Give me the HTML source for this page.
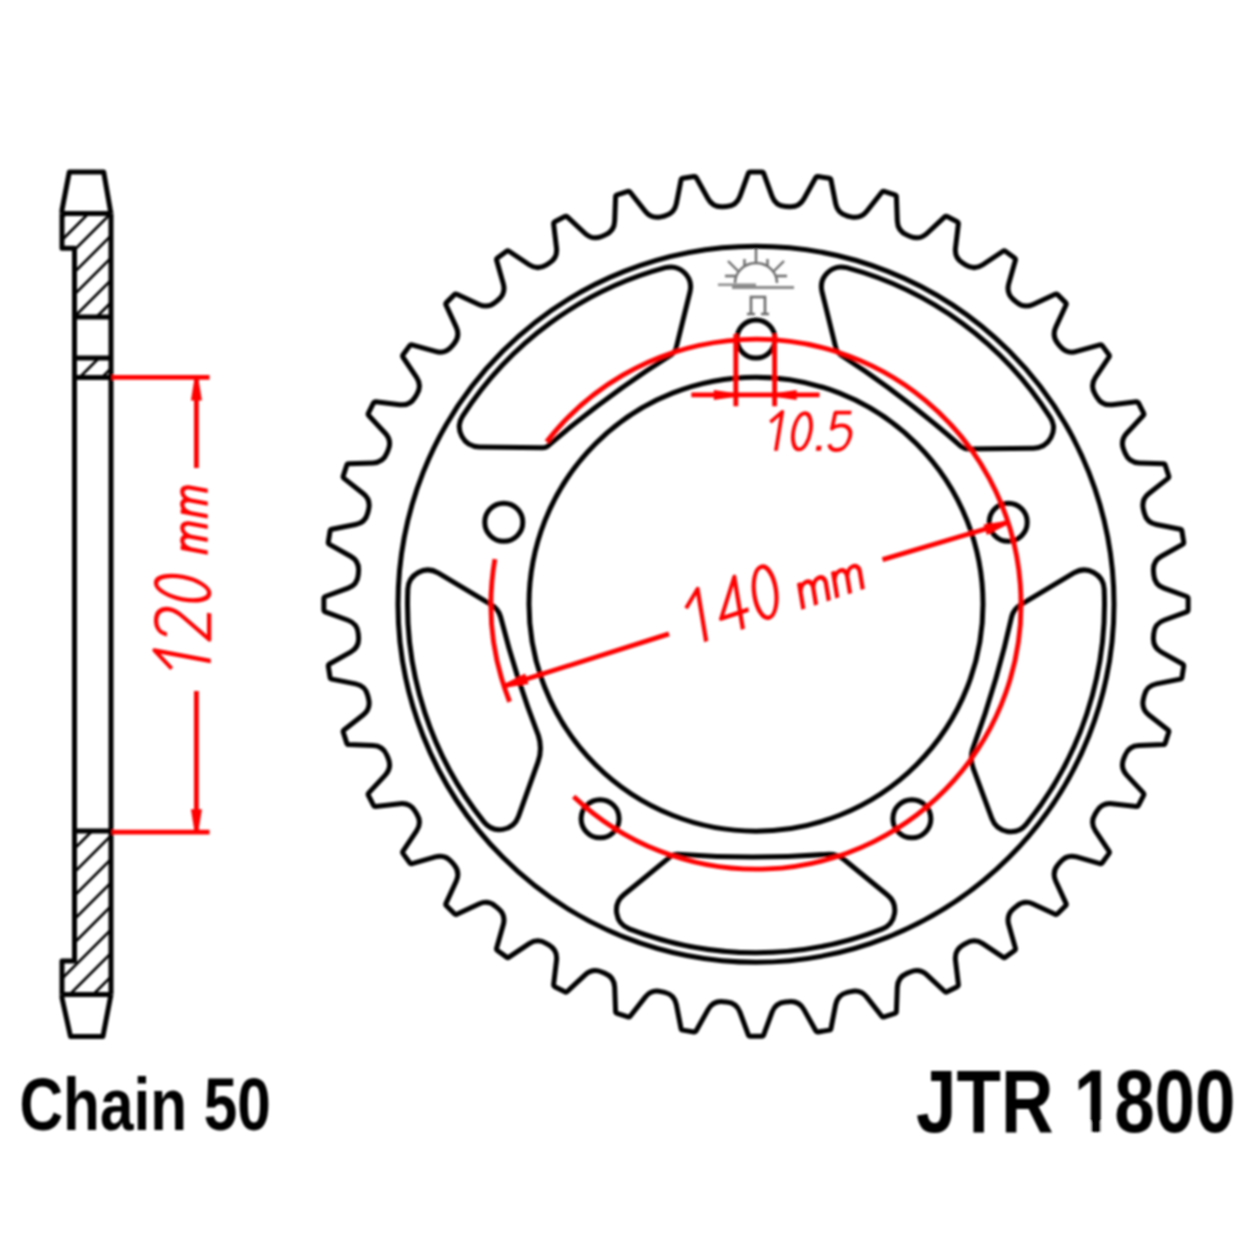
<!DOCTYPE html>
<html><head><meta charset="utf-8"><style>
html,body{margin:0;padding:0;background:#fff;}
body{width:1260px;height:1260px;overflow:hidden;}
svg{display:block;}
</style></head><body>
<svg width="1260" height="1260" viewBox="0 0 1260 1260"><defs><clipPath id="h1"><path d="M62.0,213.5 L111.0,213.5 L111.0,317 L74.5,317 L74.5,248.3 L62.0,248.3 Z"/></clipPath><clipPath id="h2"><rect x="74.5" y="358" width="36.5" height="19.5"/></clipPath><clipPath id="h3"><path d="M74.5,831 L111.0,831 L111.0,994.5 L62.0,994.5 L62.0,961 L74.5,961 Z"/></clipPath><filter id="soft" x="-2%" y="-2%" width="104%" height="104%"><feGaussianBlur stdDeviation="0.8"/></filter></defs><rect width="1260" height="1260" fill="#fff"/><g filter="url(#soft)"><g fill="none" stroke="#6a6a6a" stroke-width="2.4"><path d="M756,248 L756,264"/><path d="M735,283 A21,20 0 0 1 777,283"/><path d="M728,261 L738,271 M784,261 L774,271 M744.5,259 L744.5,267 M767.5,259 L767.5,267 M725,276 L735,276 M777,276 L787,276"/></g><path d="M718,283.5 L756,283.5 L756,286 L794,286 L794,289 L732,289 L732,286 L718,286 Z" fill="#8a8a8a"/><path d="M751,314 L751,297 L765,297 L765,314 M747,314 L755,314 M761,314 L769,314" fill="none" stroke="#6a6a6a" stroke-width="2.6"/><g fill="none" stroke="#000" stroke-width="5.0" stroke-linejoin="round"><path d="M62.0,213.5 L62.0,210 L69.3,172 L103.7,172 L110.3,210 L111.0,213.5"/><path d="M62.0,213.5 L111.0,213.5"/><path d="M62.0,213.5 L62.0,248.3 L74.5,248.3 L74.5,961 L62.0,961 L62.0,994.5"/><path d="M111.0,213.5 L111.0,994.5"/><path d="M62.0,994.5 L111.0,994.5"/><path d="M62.0,994.5 L62.0,998 L70.5,1036.5 L102.9,1036.5 L110.3,998 L111.0,994.5"/><path d="M74.5,317 L111.0,317"/><path d="M74.5,358 L111.0,358"/><path d="M74.5,377.4 L111.0,377.4"/><path d="M74.5,831 L111.0,831"/><path d="M748.32,173.47 Q748.83,172.06 750.33,172.06 L761.67,172.06 Q763.17,172.06 763.68,173.47 L772.05,196.29 Q775.49,205.68 785.46,206.46 L789.12,206.75 Q799.09,207.53 803.96,198.80 L815.79,177.57 Q816.52,176.26 818.01,176.49 L829.20,178.27 Q830.68,178.50 830.97,179.97 L835.66,203.82 Q837.59,213.63 847.32,215.97 L850.89,216.82 Q860.61,219.16 866.79,211.29 L881.80,192.18 Q882.72,191.00 884.15,191.46 L894.93,194.96 Q896.35,195.42 896.41,196.92 L897.32,221.21 Q897.69,231.20 906.93,235.03 L910.32,236.44 Q919.56,240.26 926.89,233.46 L944.70,216.93 Q945.80,215.91 947.14,216.59 L957.24,221.73 Q958.57,222.41 958.39,223.90 L955.49,248.03 Q954.29,257.96 962.82,263.19 L965.95,265.11 Q974.48,270.33 982.78,264.76 L1002.96,251.21 Q1004.21,250.38 1005.42,251.26 L1014.59,257.92 Q1015.80,258.80 1015.39,260.25 L1008.75,283.63 Q1006.01,293.24 1013.62,299.74 L1016.41,302.12 Q1024.02,308.62 1033.09,304.41 L1055.14,294.19 Q1056.50,293.56 1057.56,294.62 L1065.58,302.64 Q1066.64,303.70 1066.01,305.06 L1055.79,327.11 Q1051.58,336.18 1058.08,343.79 L1060.46,346.58 Q1066.96,354.19 1076.57,351.45 L1099.95,344.81 Q1101.40,344.40 1102.28,345.61 L1108.94,354.78 Q1109.82,355.99 1108.99,357.24 L1095.44,377.42 Q1089.87,385.72 1095.09,394.25 L1097.01,397.38 Q1102.24,405.91 1112.17,404.71 L1136.30,401.81 Q1137.79,401.63 1138.47,402.96 L1143.61,413.06 Q1144.29,414.40 1143.27,415.50 L1126.74,433.31 Q1119.94,440.64 1123.76,449.88 L1125.17,453.27 Q1129.00,462.51 1138.99,462.88 L1163.28,463.79 Q1164.78,463.85 1165.24,465.27 L1168.74,476.05 Q1169.20,477.48 1168.02,478.40 L1148.91,493.41 Q1141.04,499.59 1143.38,509.31 L1144.23,512.88 Q1146.57,522.61 1156.38,524.54 L1180.23,529.23 Q1181.70,529.52 1181.93,531.00 L1183.71,542.19 Q1183.94,543.68 1182.63,544.41 L1161.40,556.24 Q1152.67,561.11 1153.45,571.08 L1153.74,574.74 Q1154.52,584.71 1163.91,588.15 L1186.73,596.52 Q1188.14,597.03 1188.14,598.53 L1188.14,609.87 Q1188.14,611.37 1186.73,611.88 L1163.91,620.25 Q1154.52,623.69 1153.74,633.66 L1153.45,637.32 Q1152.67,647.29 1161.40,652.16 L1182.63,663.99 Q1183.94,664.72 1183.71,666.21 L1181.93,677.40 Q1181.70,678.88 1180.23,679.17 L1156.38,683.86 Q1146.57,685.79 1144.23,695.52 L1143.38,699.09 Q1141.04,708.81 1148.91,714.99 L1168.02,730.00 Q1169.20,730.92 1168.74,732.35 L1165.24,743.13 Q1164.78,744.55 1163.28,744.61 L1138.99,745.52 Q1129.00,745.89 1125.17,755.13 L1123.76,758.52 Q1119.94,767.76 1126.74,775.09 L1143.27,792.90 Q1144.29,794.00 1143.61,795.34 L1138.47,805.44 Q1137.79,806.77 1136.30,806.59 L1112.17,803.69 Q1102.24,802.49 1097.01,811.02 L1095.09,814.15 Q1089.87,822.68 1095.44,830.98 L1108.99,851.16 Q1109.82,852.41 1108.94,853.62 L1102.28,862.79 Q1101.40,864.00 1099.95,863.59 L1076.57,856.95 Q1066.96,854.21 1060.46,861.82 L1058.08,864.61 Q1051.58,872.22 1055.79,881.29 L1066.01,903.34 Q1066.64,904.70 1065.58,905.76 L1057.56,913.78 Q1056.50,914.84 1055.14,914.21 L1033.09,903.99 Q1024.02,899.78 1016.41,906.28 L1013.62,908.66 Q1006.01,915.16 1008.75,924.77 L1015.39,948.15 Q1015.80,949.60 1014.59,950.48 L1005.42,957.14 Q1004.21,958.02 1002.96,957.19 L982.78,943.64 Q974.48,938.07 965.95,943.29 L962.82,945.21 Q954.29,950.44 955.49,960.37 L958.39,984.50 Q958.57,985.99 957.24,986.67 L947.14,991.81 Q945.80,992.49 944.70,991.47 L926.89,974.94 Q919.56,968.14 910.32,971.96 L906.93,973.37 Q897.69,977.20 897.32,987.19 L896.41,1011.48 Q896.35,1012.98 894.93,1013.44 L884.15,1016.94 Q882.72,1017.40 881.80,1016.22 L866.79,997.11 Q860.61,989.24 850.89,991.58 L847.32,992.43 Q837.59,994.77 835.66,1004.58 L830.97,1028.43 Q830.68,1029.90 829.20,1030.13 L818.01,1031.91 Q816.52,1032.14 815.79,1030.83 L803.96,1009.60 Q799.09,1000.87 789.12,1001.65 L785.46,1001.94 Q775.49,1002.72 772.05,1012.11 L763.68,1034.93 Q763.17,1036.34 761.67,1036.34 L750.33,1036.34 Q748.83,1036.34 748.32,1034.93 L739.95,1012.11 Q736.51,1002.72 726.54,1001.94 L722.88,1001.65 Q712.91,1000.87 708.04,1009.60 L696.21,1030.83 Q695.48,1032.14 693.99,1031.91 L682.80,1030.13 Q681.32,1029.90 681.03,1028.43 L676.34,1004.58 Q674.41,994.77 664.68,992.43 L661.11,991.58 Q651.39,989.24 645.21,997.11 L630.20,1016.22 Q629.28,1017.40 627.85,1016.94 L617.07,1013.44 Q615.65,1012.98 615.59,1011.48 L614.68,987.19 Q614.31,977.20 605.07,973.37 L601.68,971.96 Q592.44,968.14 585.11,974.94 L567.30,991.47 Q566.20,992.49 564.86,991.81 L554.76,986.67 Q553.43,985.99 553.61,984.50 L556.51,960.37 Q557.71,950.44 549.18,945.21 L546.05,943.29 Q537.52,938.07 529.22,943.64 L509.04,957.19 Q507.79,958.02 506.58,957.14 L497.41,950.48 Q496.20,949.60 496.61,948.15 L503.25,924.77 Q505.99,915.16 498.38,908.66 L495.59,906.28 Q487.98,899.78 478.91,903.99 L456.86,914.21 Q455.50,914.84 454.44,913.78 L446.42,905.76 Q445.36,904.70 445.99,903.34 L456.21,881.29 Q460.42,872.22 453.92,864.61 L451.54,861.82 Q445.04,854.21 435.43,856.95 L412.05,863.59 Q410.60,864.00 409.72,862.79 L403.06,853.62 Q402.18,852.41 403.01,851.16 L416.56,830.98 Q422.13,822.68 416.91,814.15 L414.99,811.02 Q409.76,802.49 399.83,803.69 L375.70,806.59 Q374.21,806.77 373.53,805.44 L368.39,795.34 Q367.71,794.00 368.73,792.90 L385.26,775.09 Q392.06,767.76 388.24,758.52 L386.83,755.13 Q383.00,745.89 373.01,745.52 L348.72,744.61 Q347.22,744.55 346.76,743.13 L343.26,732.35 Q342.80,730.92 343.98,730.00 L363.09,714.99 Q370.96,708.81 368.62,699.09 L367.77,695.52 Q365.43,685.79 355.62,683.86 L331.77,679.17 Q330.30,678.88 330.07,677.40 L328.29,666.21 Q328.06,664.72 329.37,663.99 L350.60,652.16 Q359.33,647.29 358.55,637.32 L358.26,633.66 Q357.48,623.69 348.09,620.25 L325.27,611.88 Q323.86,611.37 323.86,609.87 L323.86,598.53 Q323.86,597.03 325.27,596.52 L348.09,588.15 Q357.48,584.71 358.26,574.74 L358.55,571.08 Q359.33,561.11 350.60,556.24 L329.37,544.41 Q328.06,543.68 328.29,542.19 L330.07,531.00 Q330.30,529.52 331.77,529.23 L355.62,524.54 Q365.43,522.61 367.77,512.88 L368.62,509.31 Q370.96,499.59 363.09,493.41 L343.98,478.40 Q342.80,477.48 343.26,476.05 L346.76,465.27 Q347.22,463.85 348.72,463.79 L373.01,462.88 Q383.00,462.51 386.83,453.27 L388.24,449.88 Q392.06,440.64 385.26,433.31 L368.73,415.50 Q367.71,414.40 368.39,413.06 L373.53,402.96 Q374.21,401.63 375.70,401.81 L399.83,404.71 Q409.76,405.91 414.99,397.38 L416.91,394.25 Q422.13,385.72 416.56,377.42 L403.01,357.24 Q402.18,355.99 403.06,354.78 L409.72,345.61 Q410.60,344.40 412.05,344.81 L435.43,351.45 Q445.04,354.19 451.54,346.58 L453.92,343.79 Q460.42,336.18 456.21,327.11 L445.99,305.06 Q445.36,303.70 446.42,302.64 L454.44,294.62 Q455.50,293.56 456.86,294.19 L478.91,304.41 Q487.98,308.62 495.59,302.12 L498.38,299.74 Q505.99,293.24 503.25,283.63 L496.61,260.25 Q496.20,258.80 497.41,257.92 L506.58,251.26 Q507.79,250.38 509.04,251.21 L529.22,264.76 Q537.52,270.33 546.05,265.11 L549.18,263.19 Q557.71,257.96 556.51,248.03 L553.61,223.90 Q553.43,222.41 554.76,221.73 L564.86,216.59 Q566.20,215.91 567.30,216.93 L585.11,233.46 Q592.44,240.26 601.68,236.44 L605.07,235.03 Q614.31,231.20 614.68,221.21 L615.59,196.92 Q615.65,195.42 617.07,194.96 L627.85,191.46 Q629.28,191.00 630.20,192.18 L645.21,211.29 Q651.39,219.16 661.11,216.82 L664.68,215.97 Q674.41,213.63 676.34,203.82 L681.03,179.97 Q681.32,178.50 682.80,178.27 L693.99,176.49 Q695.48,176.26 696.21,177.57 L708.04,198.80 Q712.91,207.53 722.88,206.75 L726.54,206.46 Q736.51,205.68 739.95,196.29 Z"/><circle cx="756.0" cy="604.2" r="358"/><circle cx="756.0" cy="604.2" r="227"/><path d="M835.85,348.02 L822.03,291.78 A20.0,20.0 0 0 1 846.66,267.70 A348.5,348.5 0 0 1 1050.23,417.43 A20.0,20.0 0 0 1 1033.59,448.15 L968.44,448.94 Q964.44,448.99 961.26,446.57 A1000.0,1000.0 0 0 0 839.98,354.32 Q836.80,351.90 835.85,348.02 Z"/><path d="M1020.82,604.71 L1073.93,572.92 A20.0,20.0 0 0 1 1104.18,589.22 A348.5,348.5 0 0 1 1026.13,824.38 A20.0,20.0 0 0 1 991.87,818.69 L973.23,768.28 Q969.76,758.90 972.58,749.31 A1000.0,1000.0 0 0 0 1011.69,616.49 Q1013.95,608.81 1020.82,604.71 Z"/><path d="M843.67,859.21 L887.41,895.01 A20.0,20.0 0 0 1 881.97,929.14 A348.5,348.5 0 0 1 629.19,928.81 A20.0,20.0 0 0 1 623.80,894.71 L670.09,856.82 Q673.19,854.29 677.19,854.28 A1000.0,1000.0 0 0 0 829.47,854.15 Q837.47,854.15 843.67,859.21 Z"/><path d="M537.95,762.14 L518.52,816.41 A20.0,20.0 0 0 1 484.09,822.18 A348.5,348.5 0 0 1 407.82,589.22 A20.0,20.0 0 0 1 438.07,572.92 L491.18,604.71 Q498.05,608.81 500.48,616.44 A1000.0,1000.0 0 0 0 538.43,735.62 Q542.67,748.96 537.95,762.14 Z"/><path d="M542.56,447.67 L479.21,446.90 A20.0,20.0 0 0 1 462.62,416.11 A348.5,348.5 0 0 1 665.34,267.70 A20.0,20.0 0 0 1 689.97,291.78 L676.15,348.02 Q675.20,351.90 671.98,354.28 A1000.0,1000.0 0 0 0 547.97,445.93 Q545.56,447.71 542.56,447.67 Z"/><circle cx="756.00" cy="339.00" r="19"/><circle cx="1008.22" cy="522.25" r="19"/><circle cx="911.88" cy="818.75" r="19"/><circle cx="600.12" cy="818.75" r="19"/><circle cx="503.78" cy="522.25" r="19"/></g><g fill="none" stroke="#ff0000" stroke-width="4.8"><path d="M546.61,441.78 A265.0,265.0 0 1 1 573.59,796.42"/><path d="M509.61,701.75 A265.0,265.0 0 0 1 494.87,559.09"/><path d="M112,377.4 L209.5,377.4 M112,832.2 L209.5,832.2 M196.4,377.4 L196.4,468 M196.4,691 L196.4,832.2"/><path d="M735.8,334 L735.8,406.2 M774.6,334 L774.6,406.2 M691.3,394.9 L819.5,394.9"/><path d="M503.97,686.09 L669,633.9 M882.5,559.6 L1008.03,522.31"/></g><g fill="none" stroke="#000" stroke-width="2.7"><path clip-path="url(#h1)" d="M-50.30,330.00 L79.70,200.00 M-28.00,330.00 L102.00,200.00 M-5.70,330.00 L124.30,200.00 M16.60,330.00 L146.60,200.00 M38.90,330.00 L168.90,200.00 M61.20,330.00 L191.20,200.00 M83.50,330.00 L213.50,200.00"/><path clip-path="url(#h2)" d="M72.00,385.00 L107.00,350.00 M94.30,385.00 L129.30,350.00"/><path clip-path="url(#h3)" d="M-76.80,1000.00 L103.20,820.00 M-53.30,1000.00 L126.70,820.00 M-29.80,1000.00 L150.20,820.00 M-6.30,1000.00 L173.70,820.00 M17.20,1000.00 L197.20,820.00 M40.70,1000.00 L220.70,820.00 M64.20,1000.00 L244.20,820.00 M87.70,1000.00 L267.70,820.00 M111.20,1000.00 L291.20,820.00"/></g><path d="M198.15,377.40 L201.90,400.40 L190.90,400.40 L194.65,377.40 Z" fill="#ff0000"/><path d="M194.65,832.20 L190.90,809.20 L201.90,809.20 L198.15,832.20 Z" fill="#ff0000"/><path d="M735.80,396.65 L713.80,399.90 L713.80,389.90 L735.80,393.15 Z" fill="#ff0000"/><path d="M774.60,393.15 L796.60,389.90 L796.60,399.90 L774.60,396.65 Z" fill="#ff0000"/><path d="M1008.57,523.97 L986.90,534.96 L983.51,524.50 L1007.49,520.65 Z" fill="#ff0000"/><path d="M503.43,684.43 L525.10,673.44 L528.49,683.90 L504.51,687.75 Z" fill="#ff0000"/><path transform="translate(210.7,661) rotate(-90) skewX(-10.6)" fill="none" stroke="#ff0000" stroke-linejoin="round" stroke-width="4.3" d="M-14.9,-39 L0,-56.2 L0,0 M18.5,-43.8 C18.5,-51.5 23.5,-54.6 30,-54.6 C38.5,-54.6 44,-49.5 44,-41.5 C44,-36 42,-32 39.5,-28.5 L21.3,-1.6 L47.5,-1.6 M56.39999999999999,-28.1 A11.2,26.6 0 1 1 78.8,-28.1 A11.2,26.6 0 1 1 56.39999999999999,-28.1 Z M107.9,-3.0 L107.9,-30.0 M107.9,-19.74 C109.4,-30.54 119.6,-31.35 120.6,-21.9 L120.6,-3.0 M120.6,-19.74 C122.1,-30.54 132.5,-31.35 133.5,-21.9 L133.5,-3.0 M144.1,-3.0 L144.1,-30.0 M144.1,-19.74 C145.6,-30.54 155.8,-31.35 156.8,-21.9 L156.8,-3.0 M156.8,-19.74 C158.3,-30.54 168.5,-31.35 169.5,-21.9 L169.5,-3.0"/><path transform="translate(706.2,641.5) rotate(-18.4) skewX(-9)" fill="none" stroke="#ff0000" stroke-linejoin="round" stroke-width="4.3" d="M-14.6,-37.9 L0,-52.5 L0,0 M38.7,0 L38.7,-52.5 L18.7,-17 L47.6,-17 M55.8,-28.2 A11.2,25.4 0 1 1 78.2,-28.2 A11.2,25.4 0 1 1 55.8,-28.2 Z M102.4,-0.0 L102.4,-26.5 M102.4,-16.43 C103.9,-27.03 114.8,-27.825000000000003 115.8,-18.549999999999997 L115.8,-0.0 M115.8,-16.43 C117.3,-27.03 128.2,-27.825000000000003 129.2,-18.549999999999997 L129.2,-0.0 M138.2,-0.0 L138.2,-26.5 M138.2,-16.43 C139.7,-27.03 150.6,-27.825000000000003 151.6,-18.549999999999997 L151.6,-0.0 M151.6,-16.43 C153.1,-27.03 164.0,-27.825000000000003 165.0,-18.549999999999997 L165.0,-0.0"/><path transform="translate(775.9,450.8) skewX(-9.2)" fill="none" stroke="#ff0000" stroke-linejoin="round" stroke-width="3.8" d="M-10.2,-28.6 L0,-38.9 L0,0 M14.299999999999999,-19.45 A8.6,18.1 0 1 1 31.5,-19.45 A8.6,18.1 0 1 1 14.299999999999999,-19.45 Z M69.2,-38.1 L53.3,-38.1 L52.5,-22.2 C56,-25.5 62,-26 66,-24.6 C71,-22 72.5,-17 71.5,-12 C70.5,-5 66,-0.8 60,-0.8 C56,-0.8 53.5,-3 52.3,-6.4"/><rect transform="translate(775.9,450.8) skewX(-9.2)" x="39.9" y="-5" width="5" height="5" fill="#ff0000"/><text transform="translate(19.5,1129.5) scale(0.815,1)" font-family="Liberation Sans, sans-serif" font-weight="bold" font-size="74" fill="#000">Chain 50</text><text transform="translate(916,1132) scale(0.815,1)" font-family="Liberation Sans, sans-serif" font-weight="bold" font-size="89.3" fill="#000">JTR 1800</text><path d="M1077,1121.5 L1091.2,1121.5 L1091.2,1134 L1077,1134 Z M1100.6,1121.5 L1114,1121.5 L1114,1134 L1100.6,1134 Z" fill="#fff"/></g></svg>
</body></html>
